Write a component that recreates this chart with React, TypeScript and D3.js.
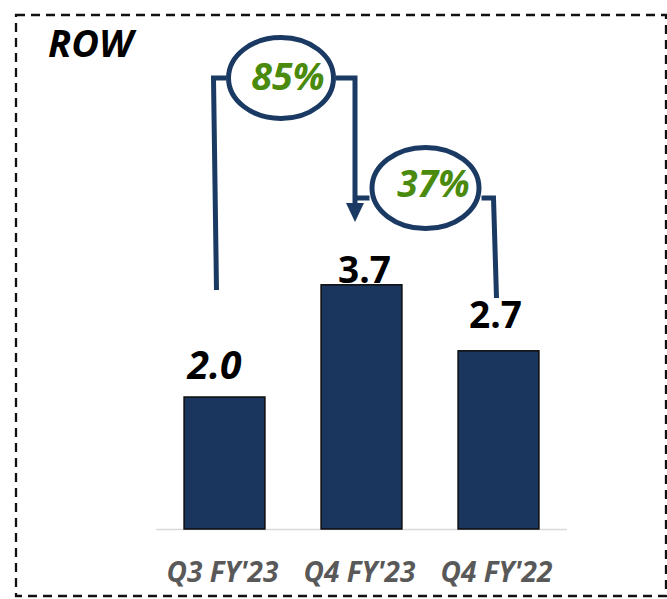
import React from "react";
import * as d3 from "d3";

const categories = ["Q3 FY'23", "Q4 FY'23", "Q4 FY'22"];
const values = [2.0, 3.7, 2.7];
const valueLabels = ["2.0", "3.7", "2.7"];
const labelItalic = [true, false, false];
const growthLabels = ["85%", "37%"];
const title = "ROW";

const W = 667;
const H = 599;
const FONT = "'Open Sans', 'Liberation Sans', sans-serif";
const BAR = "#1b365e";
const GREEN = "#4a8a0c";
const NAVY = "#1b3a63";

export default function App() {
  const x = d3
    .scaleBand<string>()
    .domain(categories)
    .range([156, 567])
    .paddingInner(0.41)
    .paddingOuter(0.205);
  const baseY = 529;
  const y = d3.scaleLinear().domain([0, 1]).range([baseY, baseY - 66]);
  const bw = x.bandwidth();
  const cx = (i: number) => (x(categories[i]) as number) + bw / 2;

  // annotation geometry
  const e1 = { cx: (cx(0) + cx(1)) / 2 - 12, cy: 78, rx: 55, ry: 43 };
  const e2 = { cx: (cx(1) + cx(2)) / 2 - 4.5, cy: 188, rx: 56, ry: 43 };
  const l1x = cx(0) - 11;
  const a1x = cx(1) - 6.5;
  const r2x = cx(2) - 3;
  const arrowTip = 222;

  return (
    <svg
      width={W}
      height={H}
      style={{ position: "absolute", left: 0, top: 0, background: "#fff" }}
    >
      <rect
        x={16}
        y={15}
        width={650}
        height={581}
        fill="none"
        stroke="#111"
        strokeWidth={2.3}
        strokeDasharray="9,6"
      />
      <text
        x={48}
        y={57}
        fontFamily={FONT}
        fontWeight={700}
        fontStyle="italic"
        fontSize={38}
        fill="#000"
      >
        {title}
      </text>

      {/* axis line */}
      <line x1={156} x2={567} y1={baseY + 0.5} y2={baseY + 0.5} stroke="#d9d9d9" strokeWidth={1.5} />

      {values.map((v, i) => (
        <rect
          key={i}
          x={x(categories[i])}
          y={y(v)}
          width={bw}
          height={baseY - y(v)}
          fill={BAR}
          stroke="#0d0d0d"
          strokeWidth={1.5}
        />
      ))}

      {values.map((v, i) => (
        <text
          key={"l" + i}
          x={cx(i) + (i === 0 ? -10 : i === 1 ? 3 : -3)}
          y={y(v) - (i === 0 ? 18 : i === 1 ? 2 : 23)}
          textAnchor="middle"
          fontFamily={FONT}
          fontWeight={700}
          fontStyle={labelItalic[i] ? "italic" : "normal"}
          fontSize={i === 0 ? 39 : 37}
          fill="#000"
        >
          {valueLabels[i]}
        </text>
      ))}

      {categories.map((c, i) => (
        <text
          key={"c" + i}
          x={cx(i) - 2}
          y={582}
          textAnchor="middle"
          fontFamily={FONT}
          fontWeight={700}
          fontStyle="italic"
          fontSize={28}
          fill="#595959"
        >
          {c}
        </text>
      ))}

      {/* bracket 1 */}
      <path
        d={`M${l1x + 3},290 L${l1x},${e1.cy} L${e1.cx - e1.rx},${e1.cy}`}
        fill="none"
        stroke={NAVY}
        strokeWidth={5}
      />
      <path
        d={`M${e1.cx + e1.rx},${e1.cy} L${a1x},${e1.cy} L${a1x},${arrowTip - 16}`}
        fill="none"
        stroke={NAVY}
        strokeWidth={5}
      />
      <path
        d={`M${a1x - 9},${arrowTip - 19} L${a1x + 9},${arrowTip - 19} L${a1x},${arrowTip} Z`}
        fill={NAVY}
      />
      <ellipse cx={e1.cx} cy={e1.cy} rx={e1.rx - 2.5} ry={e1.ry - 2.5} fill="#fff" stroke={NAVY} strokeWidth={5} />
      <text
        x={e1.cx + 7}
        y={90}
        textAnchor="middle"
        fontFamily={FONT}
        fontWeight={700}
        fontStyle="italic"
        fontSize={37.5}
        fill={GREEN}
      >
        {growthLabels[0]}
      </text>

      {/* bracket 2 */}
      <path
        d={`M${a1x},${e2.cy + 10} L${e2.cx - e2.rx},${e2.cy + 10}`}
        fill="none"
        stroke={NAVY}
        strokeWidth={5}
      />
      <path
        d={`M${e2.cx + e2.rx},${e2.cy + 10} L${r2x - 2},${e2.cy + 10} L${r2x + 1},298`}
        fill="none"
        stroke={NAVY}
        strokeWidth={5}
      />
      <ellipse cx={e2.cx} cy={e2.cy} rx={e2.rx - 2.5} ry={e2.ry - 2.5} fill="#fff" stroke={NAVY} strokeWidth={5} />
      <text
        x={e2.cx + 8}
        y={197}
        textAnchor="middle"
        fontFamily={FONT}
        fontWeight={700}
        fontStyle="italic"
        fontSize={37}
        fill={GREEN}
      >
        {growthLabels[1]}
      </text>
    </svg>
  );
}
